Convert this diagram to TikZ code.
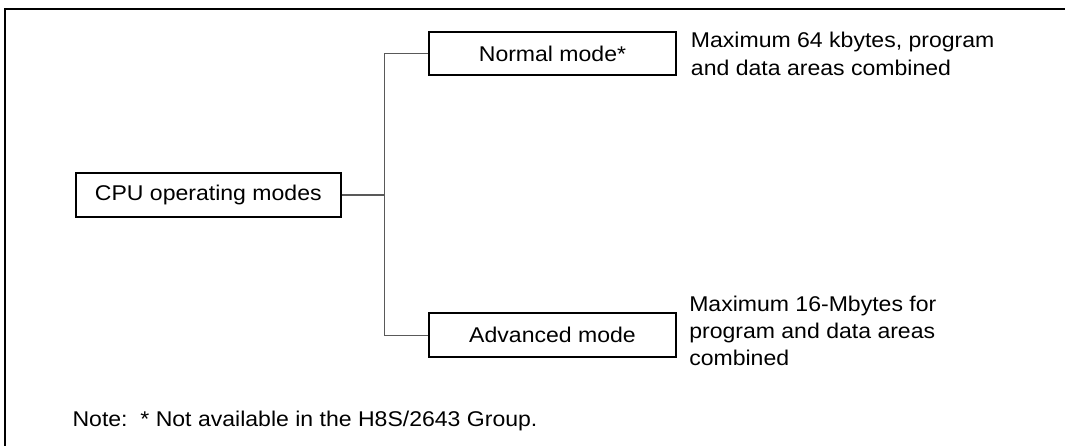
\documentclass[tikz,border=0pt]{standalone}
\usepackage{fontspec}
\setmainfont{Liberation Sans}[FakeStretch=1.08]
\begin{document}
\begin{tikzpicture}[x=0.75pt,y=-0.75pt,
  every node/.style={font=\fontsize{16pt}{20.5pt}\selectfont},
  modebox/.style={draw=black,line width=1.3pt,inner sep=0pt},
  conn/.style={draw=black!65,line width=0.8pt},
  desc/.style={align=left,anchor=base west,inner sep=0pt}]
\useasboundingbox (0,0) rectangle (1065,446);
\begin{scope}
\clip (0,0) rectangle (1065,446);
\draw[line width=2pt] (5,9) rectangle (1200,600);
\end{scope}
\node[modebox,minimum width=265.3*0.75pt,minimum height=43.4*0.75pt] (cpu) at (208.3,195) {CPU operating modes};
\node[modebox,minimum width=247*0.75pt,minimum height=43*0.75pt] (normal) at (552.5,53.5) {Normal mode*};
\node[modebox,minimum width=247*0.75pt,minimum height=43.7*0.75pt] (adv) at (552.5,335.2) {Advanced mode};
\coordinate (j) at (384.5,195);
\draw[conn] (cpu.east) -- (j);
\draw[conn] (normal.west) -- (normal.west -| j) -- (adv.west -| j) -- (adv.west);
\node[desc] (ndesc) at (690.7,75) {Maximum 64 kbytes, program\\and data areas combined};
\node[desc] (adesc) at (689,365.7) {Maximum 16-Mbytes for\\program and data areas\\combined};
\node[anchor=base west,inner sep=0pt] (note) at (72.3,426.7) {Note:\ \ * Not available in the H8S/2643 Group.};
\end{tikzpicture}
\end{document}
